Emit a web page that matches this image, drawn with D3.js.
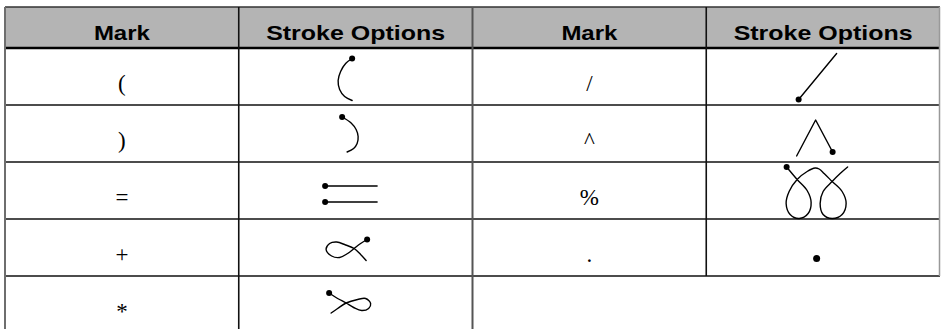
<!DOCTYPE html>
<html>
<head>
<meta charset="utf-8">
<script src="https://cdn.jsdelivr.net/npm/d3@7"></script>
<style>
  html, body { margin: 0; padding: 0; background: #fff; }
  svg { display: block; }
</style>
</head>
<body>
<svg id="chart" width="941" height="329"></svg>
<script>
// ---------- data ----------
const headers = ["Mark", "Stroke Options", "Mark", "Stroke Options"];
const leftMarks = ["(", ")", "=", "+", "*"];
const rightMarks = ["/", "^", "%", "."];

// stroke shapes: local offsets (px) from the centre of the stroke cell; first point = pen-down dot
const strokeParenOpen  = [[-3.5,-18],[-10,-13],[-15,-5],[-17.5,4],[-16,13],[-11,20],[-3.5,24]];
const strokeParenClose = [[-13.5,-16.5],[-4.5,-10.5],[0.5,-4],[2.5,3],[1.5,10],[-2,15],[-8.5,18.5]];
const strokeEqTop      = [[-30.5,-4.5],[21.5,-4.5]];
const strokeEqBottom   = [[-30.5,11.5],[21.5,11.5]];
const strokePlus = [[11.5,-8],[5,-4],[-1.5,1],[-8,6],[-16,10],[-24,8.5],[-29.5,2],[-26,-4],[-19,-5.5],[-10,-2.5],[-1.5,1],[5,7],[10.5,13]];
const strokeStar = [[-26.5,-11.5],[-18,-6],[-9.5,-1.5],[-2,3],[6,6],[13,4],[15,-1],[10,-6],[2,-5],[-9.5,-1.5],[-18,4],[-24.5,8.5]];
const strokeSlash = [[-24.5,23],[13.5,-23]];
const strokeCaret = [[9.5,18.5],[-7.5,-13.5],[-26.5,22.5]];
const strokePercent = [[-36.5,-23.5],[-26,-11],[-16,0],[-12,12],[-15,23],[-24,28],[-33,24],[-37,13],[-34,1],[-26,-11],[-16,-19],[-8,-22.5],[-4,-21.5],[1,-17],[9,-9],[19,1],[23,13],[19,24],[9,28],[0,24],[-3,13],[0,1],[9,-9],[17,-17],[24.5,-23.5]];
const strokePeriod = [[-6.5,11]];

const leftStrokes  = [[strokeParenOpen],[strokeParenClose],[strokeEqTop, strokeEqBottom],[strokePlus],[strokeStar]];
const rightStrokes = [[strokeSlash],[strokeCaret],[strokePercent],[strokePeriod]];
const straightMarks = ["=", "/", "^"];

// ---------- layout ----------
const svg = d3.select("#chart");
const x = d3.scaleBand().domain(d3.range(4)).range([5, 940]);
const y = d3.scaleBand().domain(d3.range(5)).range([48, 333]);
const headerTop = 7, headerBottom = 48;
const lineColor = "#111";

// header background
svg.append("rect")
  .attr("x", x(0)).attr("y", headerTop)
  .attr("width", x(3) + x.bandwidth() - x(0)).attr("height", headerBottom - headerTop)
  .attr("fill", "#b4b4b4");

// header text
const headerWidths = {"Mark": 56, "Stroke Options": 179};
svg.selectAll("text.head").data(headers).join("text")
  .attr("class", "head")
  .attr("x", (d, i) => x(i) + x.bandwidth() / 2)
  .attr("y", 40)
  .attr("text-anchor", "middle")
  .attr("font-family", "Liberation Sans, Arial, sans-serif")
  .attr("font-weight", "bold")
  .attr("font-size", 21)
  .attr("textLength", d => headerWidths[d])
  .attr("lengthAdjust", "spacingAndGlyphs")
  .attr("fill", "#000")
  .text(d => d);

// grid lines
const g = svg.append("g").attr("fill", "none");
g.append("line").attr("x1", x(0)).attr("x2", 940).attr("y1", headerTop).attr("y2", headerTop)
  .attr("stroke", "#333").attr("stroke-width", 1.5);
g.append("line").attr("x1", x(0)).attr("x2", 940).attr("y1", headerBottom).attr("y2", headerBottom)
  .attr("stroke", "#000").attr("stroke-width", 2.5);
d3.range(1, leftMarks.length).forEach(k => {
  const yy = y(k);
  const full = k <= rightMarks.length;
  g.append("line").attr("x1", x(0)).attr("x2", full ? 940 : x(2)).attr("y1", yy).attr("y2", yy)
    .attr("stroke", lineColor).attr("stroke-width", 1.6);
});
g.append("line").attr("x1", x(0)).attr("x2", x(0)).attr("y1", headerTop).attr("y2", 329)
  .attr("stroke", "#6e6e6e").attr("stroke-width", 2);
g.append("line").attr("x1", x(1)).attr("x2", x(1)).attr("y1", headerTop).attr("y2", 329)
  .attr("stroke", lineColor).attr("stroke-width", 1.6);
g.append("line").attr("x1", x(2)).attr("x2", x(2)).attr("y1", headerTop).attr("y2", 329)
  .attr("stroke", "#555").attr("stroke-width", 2);
g.append("line").attr("x1", x(3)).attr("x2", x(3)).attr("y1", headerTop).attr("y2", y(rightMarks.length))
  .attr("stroke", lineColor).attr("stroke-width", 1.6);
g.append("line").attr("x1", 939.5).attr("x2", 939.5).attr("y1", headerTop).attr("y2", y(rightMarks.length))
  .attr("stroke", "#999").attr("stroke-width", 1.5);

// mark glyphs + strokes
const tables = [
  {marks: leftMarks, strokes: leftStrokes, col: 0},
  {marks: rightMarks, strokes: rightStrokes, col: 2}
];
const smoothLine = d3.line().curve(d3.curveCatmullRom.alpha(0.5));
const straightLine = d3.line().curve(d3.curveLinear);

tables.forEach(t => {
  svg.append("g").selectAll("text").data(t.marks).join("text")
    .attr("x", x(t.col) + x.bandwidth() / 2)
    .attr("y", (d, i) => y(i) + 43)
    .attr("text-anchor", "middle")
    .attr("font-family", "Liberation Serif, Times New Roman, serif")
    .attr("font-size", 23)
    .attr("fill", "#000")
    .text(d => d);

  const cx = x(t.col + 1) + x.bandwidth() / 2;
  t.strokes.forEach((polys, i) => {
    const cy = y(i) + y.bandwidth() / 2;
    const sx = d3.scaleLinear().domain([-50, 50]).range([cx - 50, cx + 50]);
    const sy = d3.scaleLinear().domain([-50, 50]).range([cy - 50, cy + 50]);
    const gen = straightMarks.includes(t.marks[i]) ? straightLine : smoothLine;
    const cell = svg.append("g");
    polys.forEach(pts => {
      if (pts.length > 1) {
        cell.append("path")
          .attr("d", gen.x(p => sx(p[0])).y(p => sy(p[1]))(pts))
          .attr("fill", "none").attr("stroke", "#000").attr("stroke-width", 1.4)
          .attr("stroke-linejoin", "round").attr("stroke-linecap", "round");
      }
      cell.append("circle")
        .attr("cx", sx(pts[0][0])).attr("cy", sy(pts[0][1]))
        .attr("r", pts.length > 1 ? 3 : 3.5)
        .attr("fill", "#000");
    });
  });
});
</script>
</body>
</html>
